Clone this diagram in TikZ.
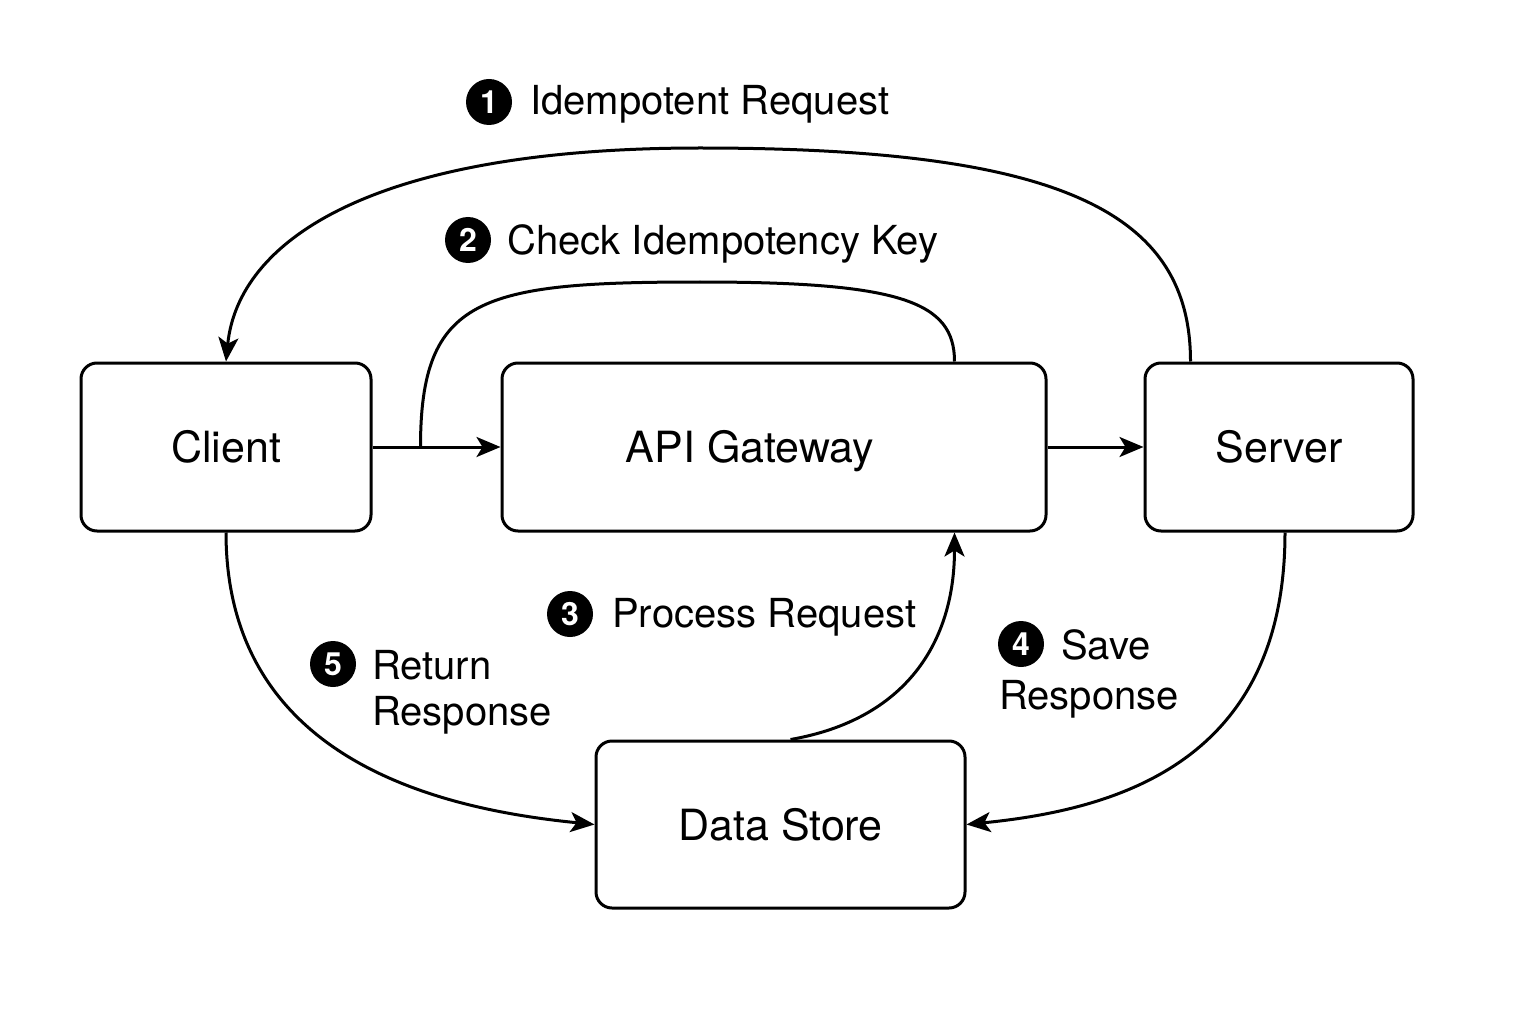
\documentclass[tikz,border=0pt]{standalone}
\usepackage{fontspec}
\setmainfont{TeX Gyre Heros}
\usetikzlibrary{arrows.meta,calc}
\begin{document}
\begin{tikzpicture}[x=1pt,y=-1pt,
  box/.style={draw,line width=3pt,rounded corners=16pt,inner sep=0pt,font=\fontsize{43}{50}\selectfont,text height=31pt,text depth=0pt},
  lbl/.style={font=\fontsize{40}{50}\selectfont,inner sep=0pt,anchor=base west},
  num/.style={circle,fill=black,text=white,minimum size=46pt,inner sep=0pt,font=\fontsize{32}{32}\selectfont\bfseries},
  conn/.style={line width=3pt},
  arr/.style={conn,-{Stealth[length=24pt,width=20pt,inset=6pt]}}]
\fill[white] (0,0) rectangle (1536,1024);
\useasboundingbox (0,0) rectangle (1536,1024);
\node[box,minimum width=290pt,minimum height=168pt] (client) at (226,447) {Client};
\node[box,minimum width=544pt,minimum height=168pt] (gw) at (774,447) {API Gateway\hspace*{48pt}};
\node[box,minimum width=268pt,minimum height=168pt] (srv) at (1279,447) {Server};
\node[box,minimum width=369pt,minimum height=167pt] (ds) at (780.5,824.5) {Data Store};
% straight arrows
\draw[arr] (client.east) -- (gw.west);
\draw[arr] (gw.east) -- (srv.west);
% curve 1: server -> client
\coordinate (s1) at ($(srv.north west)+(47,0)$);
\coordinate (top1) at (700,148);
\draw[arr] (s1) .. controls +(0,-150) and +(360,0) .. (top1) .. controls +(-330,0) and +(12,-120) .. (client.north);
% curve 2: check key (no arrow)
\coordinate (c2a) at ($(client.east)+(48,0)$);
\coordinate (c2b) at ($(gw.north east)+(-93,0)$);
\coordinate (top2) at (700,282);
\draw[conn] (c2a) .. controls +(0,-150) and +(-220,0) .. (top2) .. controls +(200,0) and +(0,-60) .. (c2b);
% curve 3: client -> data store
\draw[arr] (client.south) .. controls +(0,230) and +(-150,-15) .. (ds.west);
% curve 4: data store -> gateway
\coordinate (d4) at ($(ds.north)+(10,0)$);
\coordinate (g4) at ($(gw.south east)+(-93,0)$);
\draw[arr] (d4) .. controls +(115,-20) and +(0,110) .. (g4);
% curve 5: server -> data store
\coordinate (s5) at ($(srv.south)+(6,0)$);
\draw[arr] (s5) .. controls +(0,230) and +(150,-15) .. (ds.east);
% labels
\node[num] (n1) at (489,102) {1};
\node[lbl] (t1) at (530,115) {Idempotent Request};
\node[num] (n2) at (468,240) {2};
\node[lbl] (t2) at (507,255) {Check Idempotency Key};
\node[num] (n3) at (570,614) {3};
\node[lbl] (t3) at (612,627) {Process Request};
\node[num] (n5) at (333,664) {5};
\node[lbl] (t5a) at (372,679) {Return};
\node[lbl] (t5b) at (372,725) {Response};
\node[num] (n4) at (1021,644) {4};
\node[lbl] (t4a) at (1061,659) {Save};
\node[lbl] (t4b) at (999,709) {Response};
\end{tikzpicture}
\end{document}
